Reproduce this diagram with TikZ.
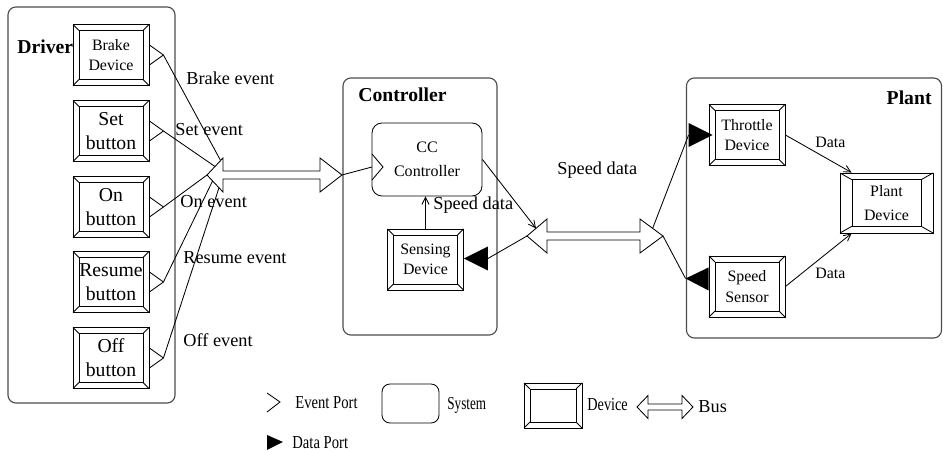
\documentclass[tikz,border=0pt]{standalone}
\usepackage{fontspec}
\setmainfont{Liberation Serif}
\usetikzlibrary{calc,arrows.meta}

% inset of the inner frame of a device box
\def\devinsetx{0.15cm}
\def\devinsety{0.15cm}

\begin{document}
\begin{tikzpicture}[
    x=0.025cm, y=-0.025cm,
    line width=0.6pt,
    >={Straight Barb[length=5pt,width=5pt]},
    system/.style={draw=black!70, line width=0.8pt, rounded corners=0.2cm, inner sep=0pt},
    dev inset/.code 2 args={\def\devinsetx{#1}\def\devinsety{#2}},
    device/.style={draw, inner sep=0pt, align=center,
        minimum width=1.9cm, minimum height=1.525cm,
        font=\fontsize{11.3}{14.5}\selectfont,
        path picture={
            \draw ([shift={(\devinsetx,\devinsety)}]path picture bounding box.south west)
                rectangle ([shift={(-\devinsetx,-\devinsety)}]path picture bounding box.north east);
            \foreach \corner/\sx/\sy in {south west/1/1, south east/-1/1, north east/-1/-1, north west/1/-1}
                \draw (path picture bounding box.\corner) -- ++(\sx*\devinsetx,\sy*\devinsety);
        }},
    button/.style={device, font=\fontsize{14}{17}\selectfont},
    sys label/.style={font=\fontsize{14}{14}\selectfont\bfseries, inner sep=0pt},
    event label/.style={font=\fontsize{13}{13}\selectfont, anchor=west, inner sep=0pt},
    data label/.style={font=\fontsize{11.3}{11.3}\selectfont, anchor=west, inner sep=0pt},
    legend label/.style={font=\fontsize{13}{13}\selectfont, anchor=west, inner sep=0pt}
]
    \useasboundingbox (0,0) rectangle (943,451);

    % Driver
    \node[system, minimum width=4.175cm, minimum height=9.9cm] (driver) at (91.5,205) {};
    \node[sys label, anchor=west] (driver-name) at (17,47) {Driver};
    \node[device] (drv-brake) at (111,55) {Brake\\Device};
    \foreach \n/\y/\t in {set/131/Set, on/207/On, resume/282/Resume, off/358/Off}
        \node[button] (drv-\n) at (111,\y) {\t\\button};
    \foreach \n in {brake,set,on,resume,off} {
        \coordinate (port-\n) at ($(drv-\n.east)+(14,0)$);
        \draw ($(drv-\n.east)+(0,-10)$) -- (port-\n) -- ($(drv-\n.east)+(0,10)$);
    }

    % bus from the driver to the controller
    \draw (207,175) coordinate (bus1-l) -- (223,158) coordinate (bus1-lt) -- (223,171) -- (320,171)
        -- (320,158) -- (342,175) coordinate (bus1-r) -- (320,192) -- (320,179) -- (223,179)
        -- (223,192) coordinate (bus1-lb) -- cycle;
    \foreach \n/\p/\e in {brake/0.85/lt, set/0.5/lt, on/0/lt, resume/0.35/lb, off/0.75/lb}
        \draw (port-\n) -- ($(bus1-l)!\p!(bus1-\e)$);
    \foreach \n/\x/\y/\t in {brake/186/78/Brake event, set/175/130/Set event, on/180/202/On event,
                             resume/183/258/Resume event, off/183/340/Off event}
        \node[event label] (ev-\n) at (\x,\y) {\t};

    % Controller
    \node[system, minimum width=3.85cm, minimum height=6.425cm] (ctrl) at (420,206.5) {};
    \node[sys label, anchor=west] (ctrl-name) at (358,95) {Controller};
    \node[system, draw=black, line width=0.6pt, rounded corners=0.25cm, align=center,
          minimum width=2.75cm, minimum height=1.825cm,
          font=\fontsize{11.4}{17}\selectfont] (cc) at (427,159.5) {CC\\Controller};
    \coordinate (cc-port) at (372,167);
    \draw ($(cc-port)+(0,-13)$) -- ($(cc-port)+(11,0)$) -- ($(cc-port)+(0,13)$);
    \draw (bus1-r) -- (cc-port);

    \node[device] (sense) at (425.5,259.5) {Sensing\\Device};
    \draw[->] (sense.north) -- (sense.north |- cc.south);
    \node[event label] (sense-data) at (433,205) {Speed data};
    \coordinate (sense-port) at ($(sense.east)+(24,-1)$);
    \fill ($(sense.east)+(0,-1)$) -- ($(sense-port)+(0,-12)$) -- ($(sense-port)+(0,12)$) -- cycle;

    % bus from the controller to the plant
    \draw (527,236) coordinate (bus2-l) -- (547,219) coordinate (bus2-lt) -- (547,232) -- (640,232)
        -- (640,219) coordinate (bus2-rt) -- (663,236) coordinate (bus2-r) -- (640,253) -- (640,240)
        -- (547,240) -- (547,253) -- cycle;
    \draw[->] (cc.east) -- ($(bus2-l)!0.45!(bus2-lt)$);
    \draw (bus2-l) -- (sense-port);
    \node[event label] (bus-data) at (557,170) {Speed data};

    % Plant
    \node[system, minimum width=6.375cm, minimum height=6.5cm] (plant) at (814,208) {};
    \node[sys label, anchor=east] (plant-name) at (932,98) {Plant};
    \node[device] (thr) at (747,135) {Throttle\\Device};
    \node[device] (spd) at (747,286.5) {Speed\\Sensor};
    \node[device, dev inset={0.3cm}{0.17cm}, minimum width=2.325cm, minimum height=1.5cm,
          font=\fontsize{11.3}{16.5}\selectfont] (pdev) at (886.5,203) {Plant\\Device};

    \coordinate (thr-port) at ($(thr.west)+(-20,0)$);
    \fill ($(thr-port)+(0,-12)$) -- ($(thr.west)+(4,0)$) -- ($(thr-port)+(0,12)$) -- cycle;
    \coordinate (spd-port) at ($(spd.west)+(-23,-8)$);
    \fill (spd-port) -- ($(spd.west)+(0,-19)$) -- ($(spd.west)+(0,4)$) -- cycle;
    \draw ($(bus2-r)!0.45!(bus2-rt)$) -- (thr-port);
    \draw (bus2-r) -- (spd-port);

    \draw[->] (thr.east) -- ($(pdev.north west)+(12,0)$);
    \draw[->] (spd.east) -- ($(pdev.south west)+(12,0)$);
    \node[data label] (thr-data) at (815,142) {Data};
    \node[data label] (spd-data) at (815,273) {Data};

    % legend
    \draw (267,393) -- (280,402) coordinate (lg-event) -- (267,412);
    \node[legend label] (lg-event-txt) at (295,403) {\scalebox{0.8}[1]{Event Port}};
    \fill (267,435) -- (283,442) coordinate (lg-data) -- (267,450) -- cycle;
    \node[legend label] (lg-data-txt) at (292,443) {\scalebox{0.8}[1]{Data Port}};
    \node[system, draw=black, line width=0.6pt, minimum width=1.425cm, minimum height=0.975cm] (lg-system) at (410.5,403.5) {};
    \node[legend label] (lg-system-txt) at (447,405) {\scalebox{0.72}[1]{System}};
    \node[device, minimum width=1.45cm, minimum height=1.125cm] (lg-device) at (553,405.5) {};
    \node[legend label] (lg-device-txt) at (587,405) {\scalebox{0.78}[1]{Device}};
    \draw (637,407) -- (648,395.5) -- (648,404) -- (682,404) -- (682,395.5) -- (693,407)
        -- (682,418.5) -- (682,410) -- (648,410) -- (648,418.5) -- cycle;
    \node[legend label] (lg-bus-txt) at (698,407) {Bus};
\end{tikzpicture}
\end{document}
